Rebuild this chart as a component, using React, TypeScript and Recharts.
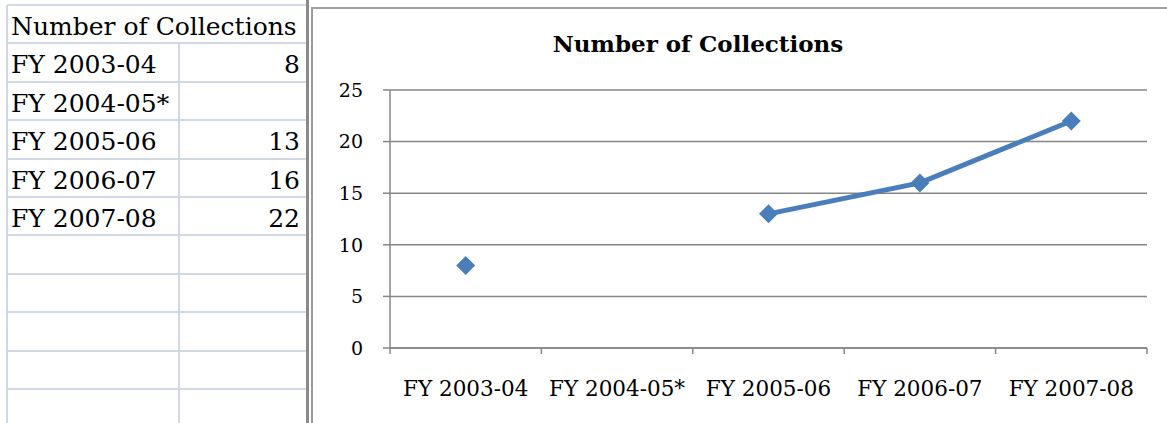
import React from 'react';
import { LineChart, Line, XAxis, YAxis, CartesianGrid } from 'recharts';

// Sheet data
const categories = ['FY 2003-04', 'FY 2004-05*', 'FY 2005-06', 'FY 2006-07', 'FY 2007-08'];
const collections: (number | null)[] = [8, null, 13, 16, 22];
const yTicks = [0, 5, 10, 15, 20, 25];
const title = 'Number of Collections';

const LINE_COLOR = '#4a7ebb';
const AXIS_COLOR = '#868686';
const CELL_BORDER = '#d0d7e5';
const FONT = '"DejaVu Serif", serif';

const chartData = categories.map((name, i) => ({ name, pos: i + 0.5, value: collections[i] }));
// boundary ticks (integers) carry tick marks, centre ticks (x.5) carry the labels
const xTicks = categories.flatMap((_, i) => [i, i + 0.5]).concat(categories.length);

const ROW_TOP = 5;
const ROW_H = 38.4;
const ROWS = 11;
const TEXT_SHIFT = 3; // excel sits cell text a bit low

const XTick = ({ x, y, payload }: any) => {
  const v = payload.value as number;
  if (Number.isInteger(v)) {
    return <line x1={x} x2={x} y1={y} y2={y + 6} stroke={AXIS_COLOR} strokeWidth={1.5} />;
  }
  return (
    <text x={x} y={y + 40} textAnchor="middle" dominantBaseline="central" fontFamily={FONT} fontSize={21.5} fill="#000">
      {categories[Math.floor(v)]}
    </text>
  );
};

const Diamond = ({ cx, cy }: any) => {
  if (cx == null || cy == null) return <g />;
  const r = 9.5;
  return <path d={`M${cx},${cy - r}L${cx + r},${cy}L${cx},${cy + r}L${cx - r},${cy}Z`} fill={LINE_COLOR} />;
};

const SheetTable = () => {
  const rows = Array.from({ length: ROWS }, (_, i) => i);
  const label = (i: number) => (i === 0 ? title : categories[i - 1]);
  return (
    <div style={{ position: 'absolute', left: 0, top: 0, width: 310, height: 423, fontFamily: FONT, fontSize: 25, color: '#000' }}>
      {rows.map((i) => (
        <div key={`h${i}`} style={{ position: 'absolute', left: 7, width: 299, top: ROW_TOP + i * ROW_H - 1, height: 2, background: CELL_BORDER }} />
      ))}
      <div style={{ position: 'absolute', left: 6, width: 2, top: ROW_TOP, height: 423 - ROW_TOP, background: CELL_BORDER }} />
      <div style={{ position: 'absolute', left: 178, width: 2, top: ROW_TOP + ROW_H, height: 423, background: CELL_BORDER }} />
      {rows.slice(0, categories.length + 1).map((i) => (
        <div key={`t${i}`} style={{ position: 'absolute', left: 11, top: ROW_TOP + i * ROW_H + TEXT_SHIFT, height: ROW_H, lineHeight: `${ROW_H}px`, whiteSpace: 'nowrap' }}>
          {label(i)}
        </div>
      ))}
      {collections.map((v, i) => (
        <div key={`v${i}`} style={{ position: 'absolute', right: 310 - 300, top: ROW_TOP + (i + 1) * ROW_H + TEXT_SHIFT, height: ROW_H, lineHeight: `${ROW_H}px` }}>
          {v == null ? '' : v}
        </div>
      ))}
    </div>
  );
};

export default function App() {
  return (
    <div style={{ position: 'absolute', left: 0, top: 0, width: 1167, height: 423, background: '#fff', overflow: 'hidden' }}>
      <SheetTable />
      {/* sheet / chart frame lines */}
      <div style={{ position: 'absolute', left: 306, top: 0, width: 3, height: 423, background: '#8a8a8a' }} />
      <div style={{ position: 'absolute', left: 311, top: 7, width: 2, height: 416, background: '#9a9a9a' }} />
      <div style={{ position: 'absolute', left: 311, top: 7, width: 856, height: 2, background: '#a0a0a0' }} />

      <div style={{ position: 'absolute', left: 313, top: 9, width: 854, height: 414 }}>
        <div style={{ position: 'absolute', left: 0, width: 770, top: 21, textAlign: 'center', fontFamily: FONT, fontWeight: 'bold', fontSize: 23, lineHeight: '28px' }}>
          {title}
        </div>
        <LineChart width={854} height={414} data={chartData} margin={{ top: 81, right: 20, bottom: 25, left: 17 }}>
          <CartesianGrid vertical={false} stroke={AXIS_COLOR} strokeWidth={1.5} />
          <XAxis
            dataKey="pos"
            type="number"
            domain={[0, categories.length]}
            ticks={xTicks}
            interval={0}
            tickLine={false}
            tickSize={0}
            tickMargin={0}
            tick={<XTick />}
            height={50}
            axisLine={{ stroke: AXIS_COLOR, strokeWidth: 1.5 }}
          />
          <YAxis
            domain={[0, 25]}
            ticks={yTicks}
            interval={0}
            width={60}
            tickSize={7}
            tickMargin={20}
            axisLine={{ stroke: AXIS_COLOR, strokeWidth: 1.5 }}
            tickLine={{ stroke: AXIS_COLOR, strokeWidth: 1.5 }}
            tick={{ fill: '#000', fontFamily: FONT, fontSize: 19 }}
          />
          <Line
            dataKey="value"
            stroke={LINE_COLOR}
            strokeWidth={5}
            connectNulls={false}
            dot={<Diamond />}
            activeDot={false}
            isAnimationActive={false}
          />
        </LineChart>
      </div>
    </div>
  );
}
